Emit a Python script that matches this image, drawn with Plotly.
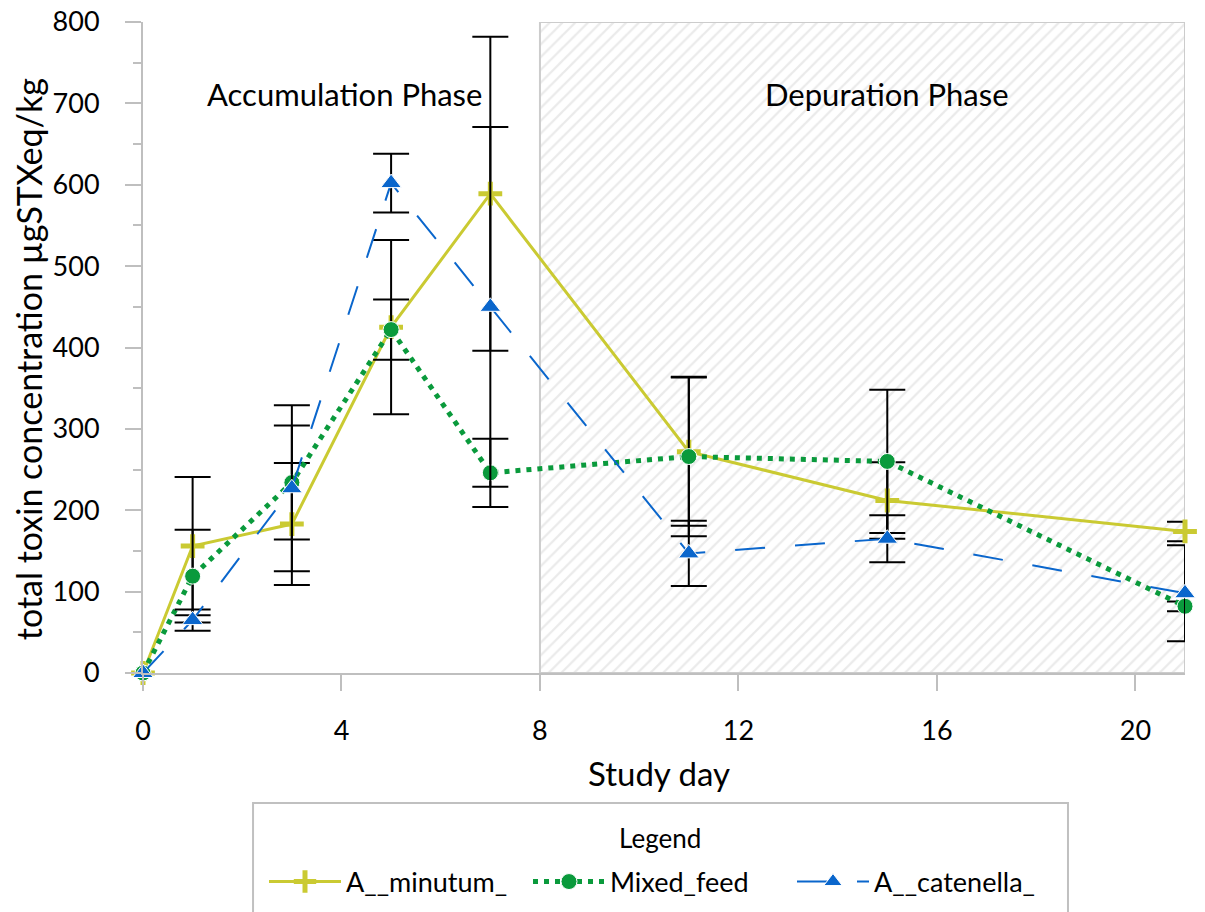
import plotly.graph_objects as go

days = [0, 1, 3, 5, 7, 11, 15, 21]
minutum = [0, 156, 183, 425, 589, 272, 212, 174]
minutum_err = [0, 85, 75, 107, 193, 91, 47, 12]
mixed = [0, 119, 234, 422, 246, 266, 260, 82]
mixed_err = [0, 57, 70, 37, 42, 98, 88, 6]
catenella = [0, 65, 227, 602, 450, 147, 165, 98]
catenella_err = [0, 13, 102, 36, 221, 40, 29, 59]

series_names = ["A__minutum_", "Mixed_feed", "A__catenella_"]
depuration_x = [8, 21]
y_range = [0, 800]
x_ticks = [0, 4, 8, 12, 16, 20]
y_ticks = [0, 100, 200, 300, 400, 500, 600, 700, 800]
y_minor_ticks = [50, 150, 250, 350, 450, 550, 650, 750]

YELLOW = "#CACA32"
GREEN = "#0A9A3C"
BLUE = "#0A66CC"
FONT = "Lato"

fig = go.Figure()

# depuration phase hatched area
fig.add_trace(go.Scatter(
    x=[depuration_x[0], depuration_x[1], depuration_x[1], depuration_x[0], depuration_x[0]],
    y=[y_range[0], y_range[0], y_range[1], y_range[1], y_range[0]],
    mode="lines", fill="toself", fillcolor="white",
    fillpattern=dict(shape="/", fgcolor="#d6d6d6", bgcolor="white", size=9, solidity=0.25),
    line=dict(color="#cccccc", width=2),
    hoverinfo="skip", showlegend=False,
))

styles = [
    (minutum, minutum_err, dict(color=YELLOW, width=3), dict(symbol="cross-thin", size=17, line=dict(color=YELLOW, width=5), color=YELLOW)),
    (mixed, mixed_err, dict(color=GREEN, width=5, dash="5px,6px"), dict(symbol="circle", size=16, color=GREEN, line=dict(color="white", width=1))),
    (catenella, catenella_err, dict(color=BLUE, width=2, dash="30px,30px"), dict(symbol="triangle-up", size=18, color=BLUE, line=dict(color="white", width=1))),
]

for name, (vals, errs, line, marker) in zip(series_names, styles):
    # error bars (day 0 has none)
    fig.add_trace(go.Scatter(
        x=days[1:], y=vals[1:], mode="markers",
        marker=dict(size=1, opacity=0),
        error_y=dict(type="data", array=errs[1:], color="black", thickness=2, width=18),
        hoverinfo="skip", showlegend=False, cliponaxis=False,
    ))
    fig.add_trace(go.Scatter(
        x=days, y=vals, name=name, mode="lines+markers",
        line=line, marker=marker, cliponaxis=False,
    ))

axis_common = dict(
    showline=True, linecolor="#BFBFBF", linewidth=2,
    ticks="outside", ticklen=16, tickwidth=2, tickcolor="#BFBFBF",
    showgrid=False, zeroline=False, automargin=False,
    tickfont=dict(family=FONT, size=27, color="black"),
)

fig.update_xaxes(range=[0, 21], tickvals=x_ticks, ticklabelstandoff=17, **axis_common)
fig.update_yaxes(range=y_range, tickvals=y_ticks, ticklabelstandoff=20,
                 minor=dict(tickvals=y_minor_ticks, ticks="outside", ticklen=8, tickwidth=2, tickcolor="#BFBFBF"),
                 **axis_common)

fig.add_annotation(text="Accumulation Phase", x=4.06, y=711, xref="x", yref="y",
                   showarrow=False, font=dict(family=FONT, size=31, color="black"))
fig.add_annotation(text="Depuration Phase", x=15.0, y=711, xref="x", yref="y",
                   showarrow=False, font=dict(family=FONT, size=31, color="black"))
fig.add_annotation(text="Study day", x=0.495, y=-0.1536, xref="paper", yref="paper",
                   showarrow=False, yanchor="middle", font=dict(family=FONT, size=33, color="black"))
fig.add_annotation(text="total toxin concentration µgSTXeq/kg", x=-0.1104, y=0.482, xref="paper", yref="paper",
                   showarrow=False, textangle=-90, xanchor="center", yanchor="middle",
                   font=dict(family=FONT, size=34, color="black"))
fig.add_annotation(text="Legend", x=0.496, y=(673 - 838) / 651, xref="paper", yref="paper",
                   showarrow=False, xanchor="center", yanchor="middle",
                   font=dict(family=FONT, size=26, color="black"))

# legend frame
fig.add_shape(type="rect", xref="paper", yref="paper", x0=0.1056, x1=0.8877, y0=-0.1997, y1=-0.42,
              line=dict(color="#C0C0C0", width=2), fillcolor="rgba(0,0,0,0)", layer="below")

fig.update_layout(
    width=1205, height=912, autosize=False,
    margin=dict(l=143, r=20, t=22, b=239),
    plot_bgcolor="white", paper_bgcolor="white",
    font=dict(family=FONT, color="black"),
    legend=dict(
        orientation="h", xref="container", yref="container",
        x=660 / 1205, xanchor="center", y=(912 - 882) / 912, yanchor="middle",
        font=dict(family=FONT, size=27), entrywidth=177, itemwidth=72,
        bgcolor="rgba(0,0,0,0)",
    ),
)

fig.write_html("out.html")
